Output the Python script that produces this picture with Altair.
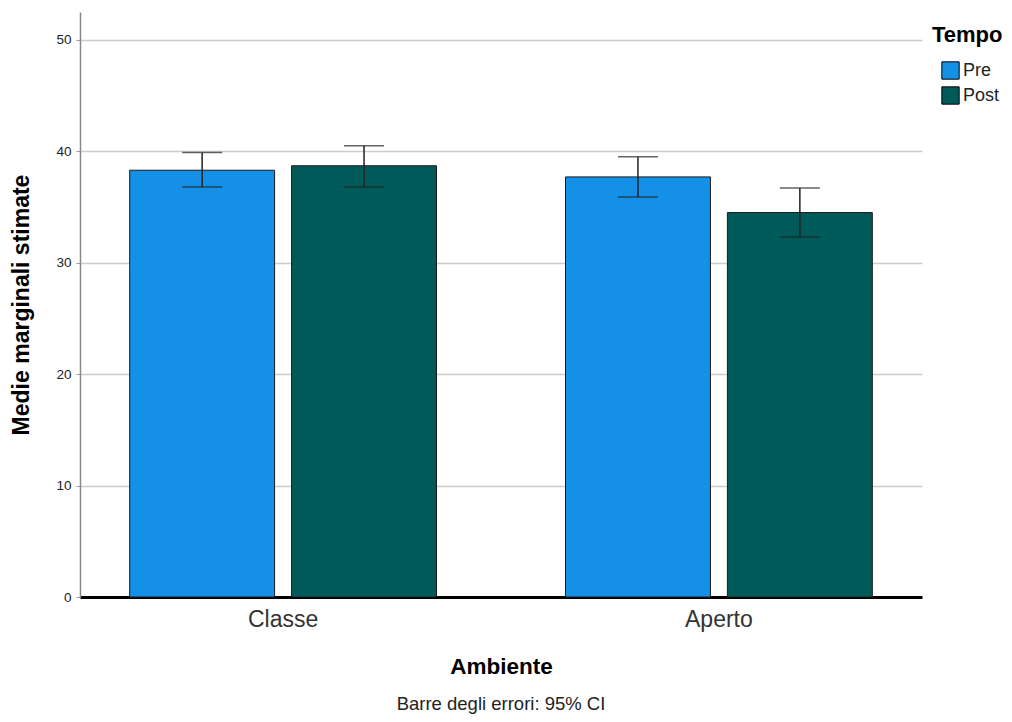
import altair as alt
import pandas as pd

ambiente = ["Classe", "Classe", "Aperto", "Aperto"]
tempo = ["Pre", "Post", "Pre", "Post"]
media = [38.3, 38.7, 37.7, 34.5]
ci_low = [36.8, 36.8, 35.9, 32.3]
ci_high = [39.9, 40.5, 39.5, 36.7]

df = pd.DataFrame({"Ambiente": ambiente, "Tempo": tempo, "media": media,
                   "lo": ci_low, "hi": ci_high})

FONT = "Liberation Sans"
amb_order = ["Classe", "Aperto"]
tempo_order = ["Pre", "Post"]

xenc = alt.X("Ambiente:N", sort=amb_order,
             scale=alt.Scale(paddingInner=0.296, paddingOuter=0.114),
             axis=alt.Axis(title="Ambiente", labelAngle=0, labelFontSize=23,
                           labelColor="#333333", labelFont=FONT, ticks=False, tickSize=0,
                           labelPadding=11, domainColor="#000000", domainWidth=3,
                           titleFontSize=22.5, titleFontWeight="bold", titleFont=FONT,
                           titleColor="#000000", titlePadding=24, grid=False))
xoff = alt.XOffset("Tempo:N", sort=tempo_order,
                   scale=alt.Scale(domain=tempo_order, paddingInner=0.105, paddingOuter=0))
yscale = alt.Scale(domain=[0, 52.5], nice=False)
yaxis = alt.Axis(title="Medie marginali stimate", values=[0, 10, 20, 30, 40, 50],
                 labelFontSize=13.5, labelColor="#222222", labelFont=FONT,
                 tickSize=4, tickColor="#999999", labelPadding=5,
                 domainColor="#888888", domainWidth=1.5,
                 grid=True, gridColor="#cccccc", gridWidth=1.5,
                 titleFontSize=23, titleFontWeight="bold", titleFont=FONT,
                 titleColor="#000000", titlePadding=22)

bars = alt.Chart(df).mark_bar(stroke="#1a1a1a", strokeWidth=1).encode(
    x=xenc,
    xOffset=xoff,
    y=alt.Y("media:Q", scale=yscale, axis=yaxis),
    fill=alt.Fill("Tempo:N", sort=tempo_order,
                  scale=alt.Scale(domain=tempo_order, range=["#1490E6", "#005A5A"]),
                  legend=alt.Legend(title="Tempo", orient="none", legendX=852, legendY=13,
                                    titleFontSize=22, titleFontWeight="bold", titleFont=FONT,
                                    titleColor="#000000", titlePadding=14,
                                    labelFontSize=18, labelFont=FONT, labelColor="#222222",
                                    symbolType="square", symbolSize=300, symbolOffset=9,
                                    symbolStrokeColor="#000000", symbolStrokeWidth=1,
                                    rowPadding=2, labelOffset=3)),
)

rules = alt.Chart(df).mark_rule(color="#222222", strokeWidth=1.5).encode(
    x=xenc, xOffset=xoff,
    y=alt.Y("lo:Q", scale=yscale), y2="hi:Q",
)
cap_lo = alt.Chart(df).mark_tick(color="#222222", thickness=1.5, size=40).encode(
    x=xenc, xOffset=xoff, y=alt.Y("lo:Q", scale=yscale),
)
cap_hi = alt.Chart(df).mark_tick(color="#222222", thickness=1.5, size=40).encode(
    x=xenc, xOffset=xoff, y=alt.Y("hi:Q", scale=yscale),
)

chart = alt.layer(bars, rules, cap_lo, cap_hi).properties(
    width=842, height=585,
    autosize=alt.AutoSizeParams(type="none"),
    padding={"left": 72, "top": 4, "right": 82, "bottom": 125},
    title=alt.TitleParams("Barre degli errori: 95% CI", orient="bottom", anchor="middle",
                          frame="group", fontSize=18.5, fontWeight="normal", font=FONT,
                          color="#222222", offset=17),
).configure_view(stroke=None).configure_axis(labelFont=FONT)

chart.save("out.html", embed_options={"renderer": "svg", "actions": False})
